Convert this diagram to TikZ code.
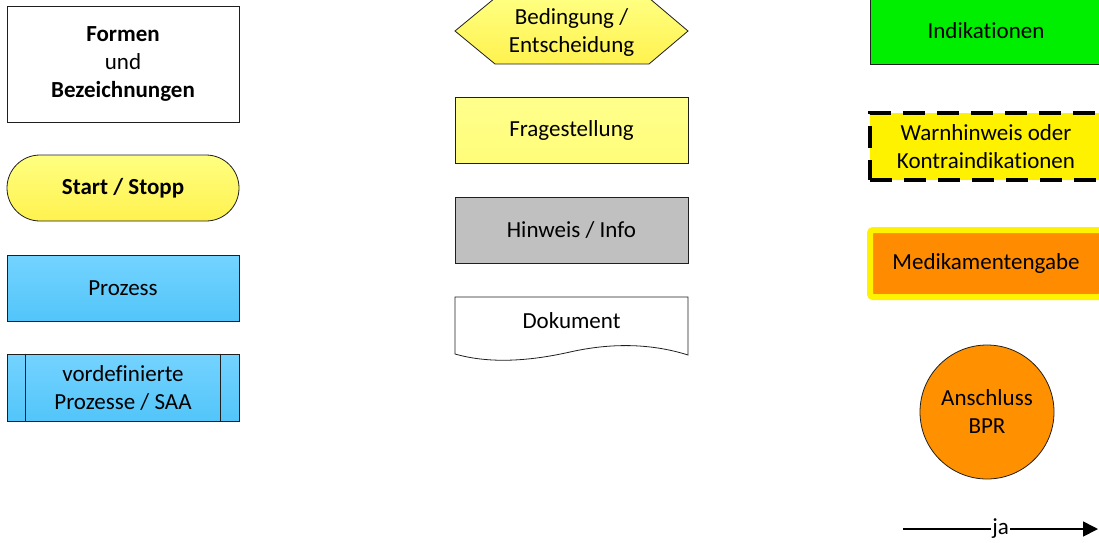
\documentclass[tikz,border=0pt]{standalone}
\usepackage{fontspec}
\setmainfont{Carlito}[RawFeature=-liga]
\usetikzlibrary{arrows.meta}
\definecolor{ylw}{HTML}{FFFF80}
\definecolor{ylwb}{HTML}{FFF24F}
\definecolor{blut}{HTML}{74D3FF}
\definecolor{blub}{HTML}{52C5F9}
\definecolor{gry}{HTML}{C0C0C0}
\definecolor{grn}{HTML}{00EE00}
\definecolor{org}{HTML}{FF8C00}
\definecolor{orgc}{HTML}{FF9100}
\definecolor{edge}{HTML}{1F1F1F}
\begin{document}
\begin{tikzpicture}[x=1pt,y=-1pt,
  every node/.style={font=\fontsize{23}{28}\selectfont, align=center, inner sep=0pt},
  box/.style={draw=edge, line width=0.8pt, minimum width=232pt, minimum height=66pt},
  yshade/.style={top color=ylw, bottom color=ylwb},
  bshade/.style={top color=blut, bottom color=blub},
]
\useasboundingbox (0,0) rectangle (1099,542);
% left column
\node[box, minimum height=116pt] (formen) at (123,64) {\textbf{Formen}\\und\\\textbf{Bezeichnungen}};
\node[box, yshade, rounded corners=33pt] (start) at (123,188) {\textbf{Start / Stopp}};
\node[box, bshade] (proz) at (123,288) {Prozess};
\node[box, bshade, minimum height=67pt] (vord) at (123,387.5) {vordefinierte\\Prozesse / SAA};
\draw[edge, line width=0.8pt] ([xshift=19pt]vord.north west) -- ([xshift=19pt]vord.south west);
\draw[edge, line width=0.8pt] ([xshift=-19pt]vord.north east) -- ([xshift=-19pt]vord.south east);
% middle column
\draw[draw=edge, line width=0.8pt, top color=ylw, bottom color=ylwb]
  (455,31) -- (495,-2) -- (649,-2) -- (688,31) -- (649,64) -- (495,64) -- cycle;
\node (bed) at (571.5,32) {Bedingung /\\Entscheidung};
\node[box, minimum width=233pt, top color=ylw!90!white, bottom color=ylw!85!ylwb] (frage) at (571.5,130) {Fragestellung};
\node[box, minimum width=233pt, fill=gry] (hinw) at (571.5,230) {Hinweis / Info};
\draw[draw=edge, line width=0.8pt, fill=white]
  (455,297) -- (688,297) -- (688,355)
  .. controls (650,343) and (610,343) .. (570,352)
  .. controls (530,361) and (490,364) .. (455,354) -- cycle;
\node (dok) at (571.5,321) {Dokument};
% right column
\node[box, fill=grn] (ind) at (986,31) {Indikationen};
\node[box, minimum height=67pt, fill=yellow, draw=black, line width=3.5pt, dash pattern=on 22pt off 12pt] (warn) at (986,146.5) {Warnhinweis oder\\Kontraindikationen};
\node[box, minimum height=67pt, fill=org, draw=yellow, line width=6pt, rounded corners=3pt] (med) at (986,263.5) {Medikamentengabe};
\node[circle, draw=edge, line width=0.8pt, fill=orgc, minimum size=134pt] (bpr) at (987,412) {Anschluss\\BPR};
\coordinate (a1) at (903,529);
\coordinate (a2) at (1098,529);
\draw[line width=1.6pt, -{Triangle[length=15pt,width=15pt]}] (a1) -- node[fill=white, inner xsep=1pt, inner ysep=2pt] (ja) {ja} (a2);
\end{tikzpicture}
\end{document}
